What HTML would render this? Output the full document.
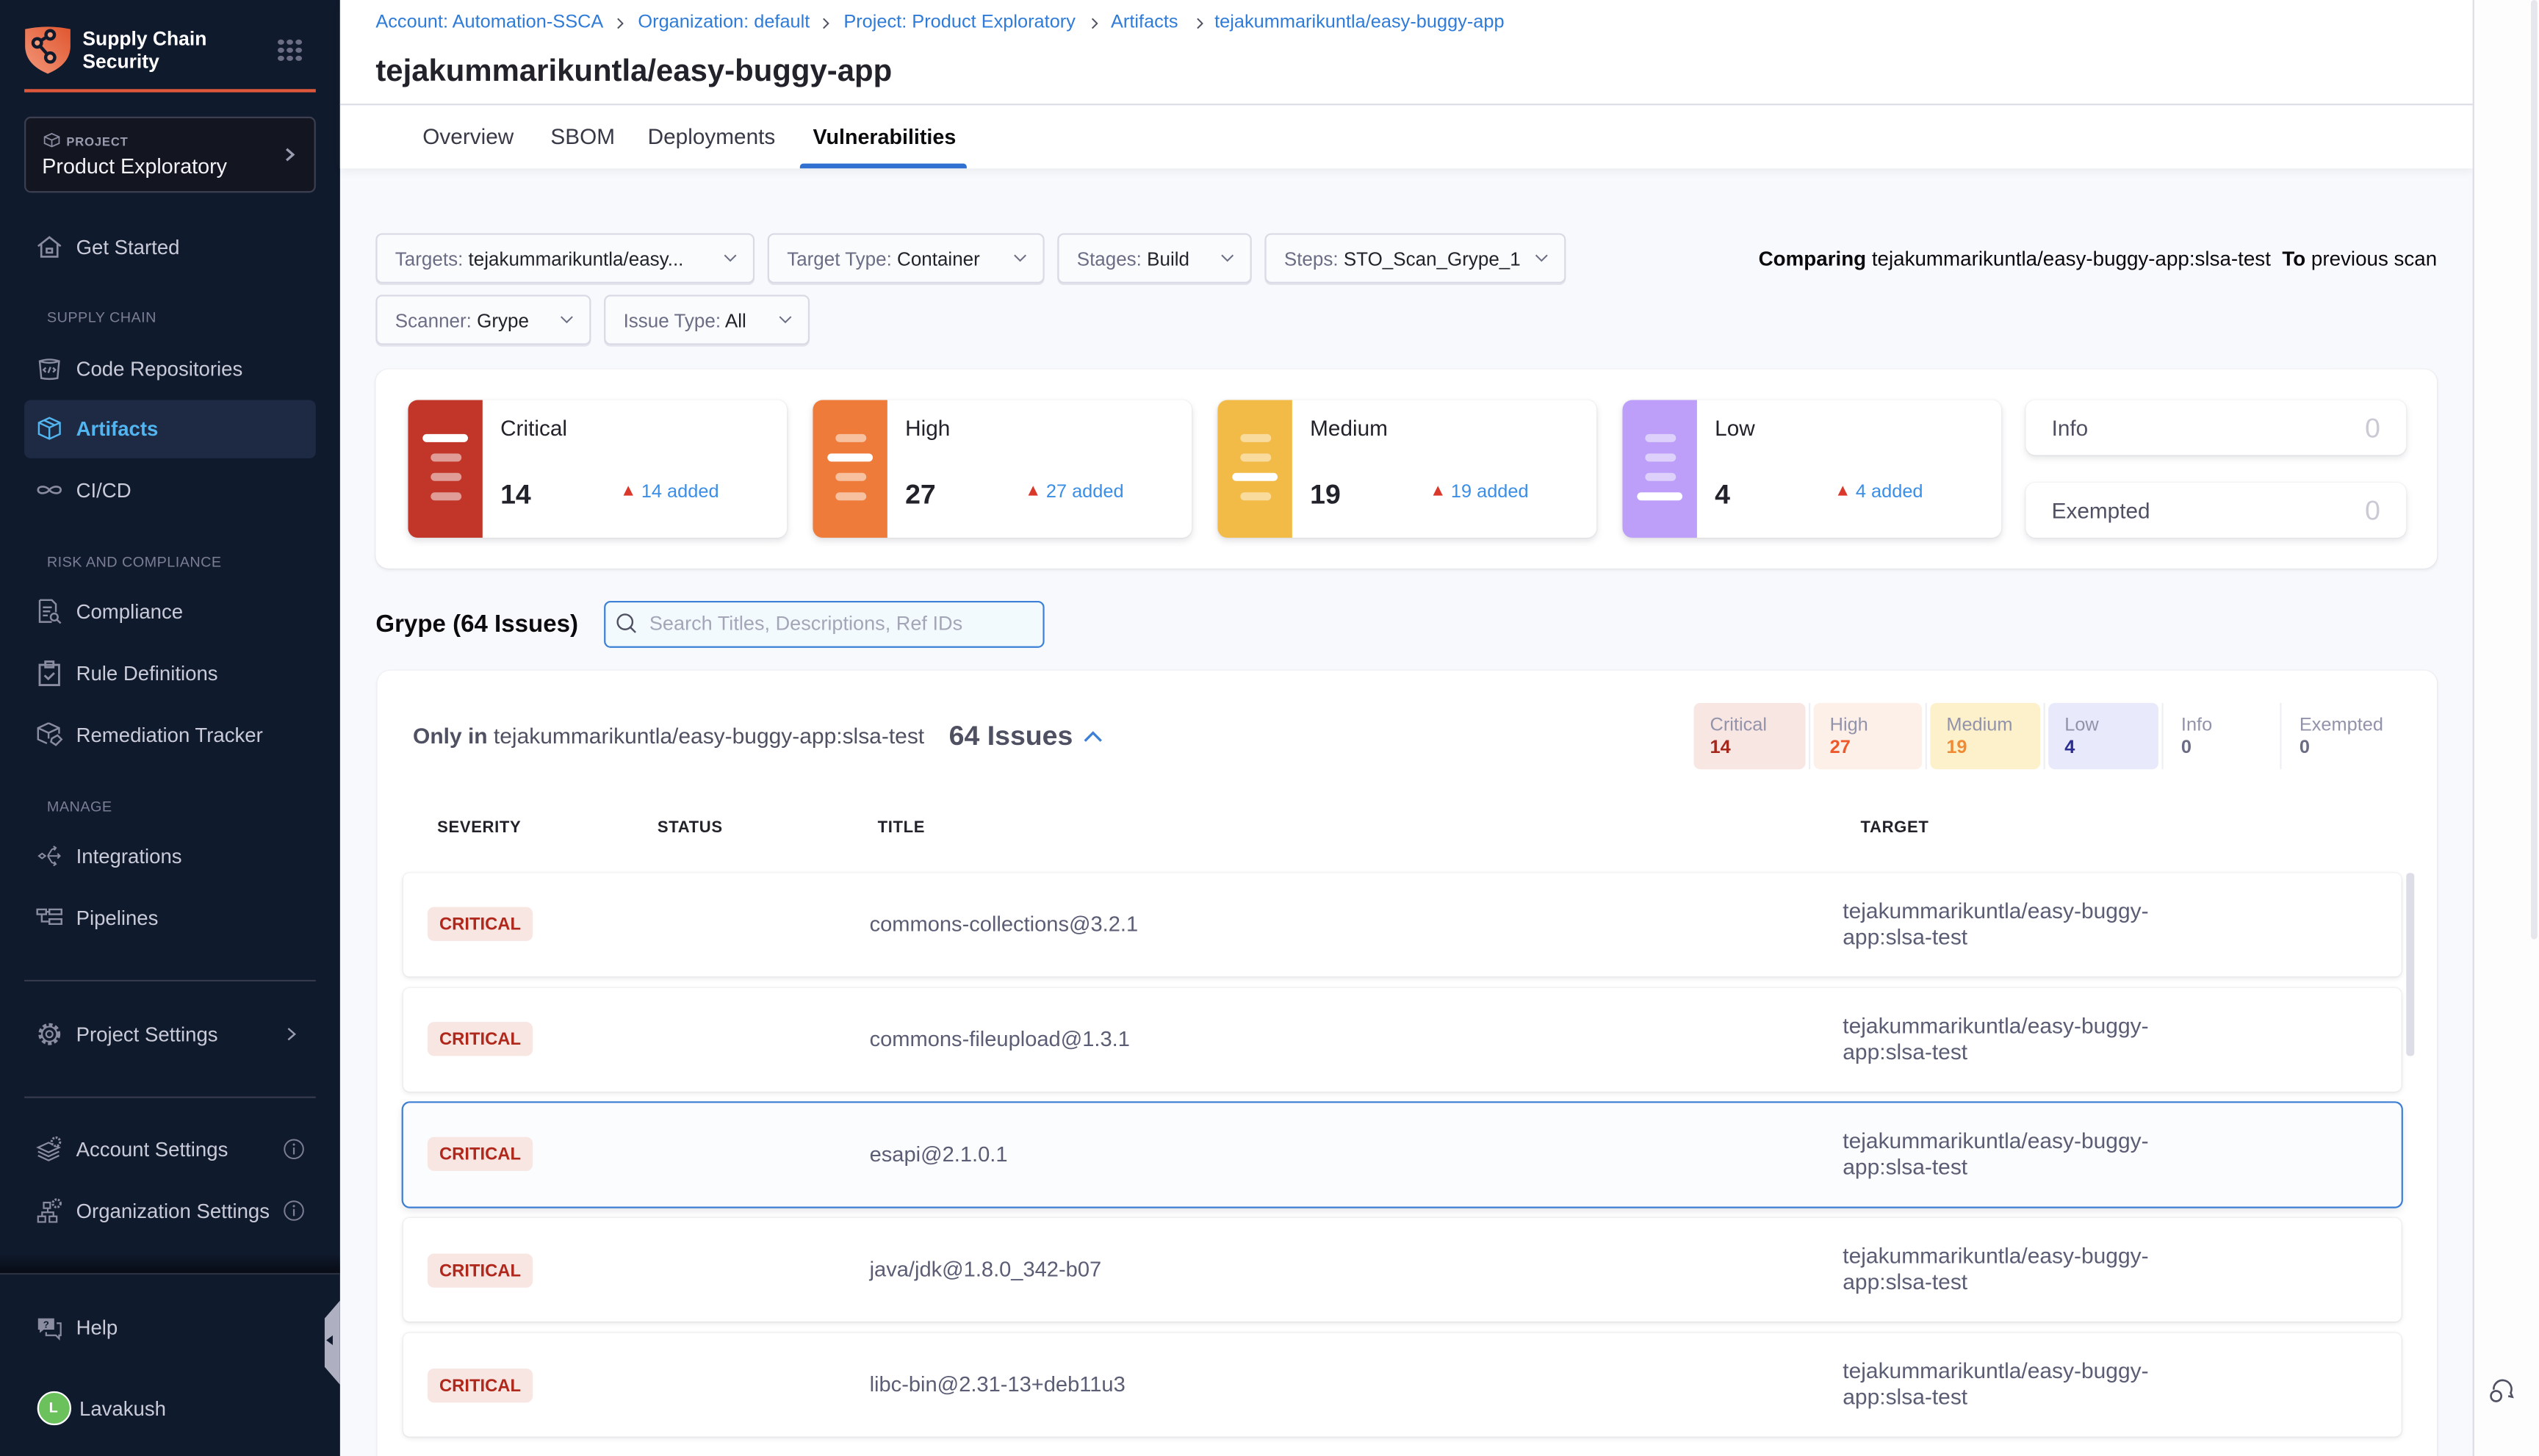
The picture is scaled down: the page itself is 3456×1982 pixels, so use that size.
<!DOCTYPE html>
<html><head><meta charset="utf-8">
<style>
html,body{margin:0;padding:0;width:3456px;height:1982px;overflow:hidden;background:#f8f9fc;}
#root{position:absolute;left:0;top:0;width:1568px;height:899px;transform:scale(2.2041,2.2047);transform-origin:0 0;font-family:"Liberation Sans",Arial,sans-serif;background:#f8f9fc;overflow:hidden;}
.a{position:absolute;white-space:nowrap;}
.nav{position:absolute;left:47px;font-size:12.5px;line-height:18px;color:#c9cbd8;white-space:nowrap;margin-top:1px;}
.ico{position:absolute;left:22px;width:17px;height:17px;}
.sec{position:absolute;left:29px;font-size:9px;line-height:12px;color:#7b7e94;letter-spacing:0.2px;white-space:nowrap;margin-top:1px;}
.bc{position:absolute;top:7px;font-size:11.5px;line-height:14px;color:#2f7bd8;white-space:nowrap;}
.bcs{position:absolute;top:10.5px;width:4px;height:7px;}
.tab{position:absolute;top:77px;font-size:13.5px;line-height:16px;color:#383946;white-space:nowrap;}
.flt{position:absolute;height:29px;background:#fafbfd;border:1px solid #d9dae5;border-radius:4px;box-shadow:0 1px 0 #e3e4ec;font-size:11.8px;line-height:29px;color:#6b6d85;white-space:nowrap;}
.flt span{color:#22222a;}
.flt .lb{position:absolute;left:11px;top:1px;}
.flt svg{position:absolute;top:12px;width:8px;height:5px;}
.card{position:absolute;top:247px;width:234px;height:85px;background:#fff;border-radius:6px;box-shadow:0 0 1px rgba(40,41,61,.1),0 2px 4px rgba(96,97,112,.18);overflow:hidden;}
.strip{position:absolute;left:0;top:0;width:46px;height:85px;}
.bar{position:absolute;height:5.5px;border-radius:3px;}
.bw{left:9px;width:28px;background:#fff;}
.bn{left:13.5px;width:19px;}
.clab{position:absolute;left:57px;top:9px;font-size:13.5px;line-height:18px;color:#22222a;}
.cnum{position:absolute;left:57px;top:49px;font-size:17px;line-height:20px;font-weight:bold;color:#22222a;}
.cadd{position:absolute;left:144px;top:50px;font-size:11.5px;line-height:14px;color:#3a8ee6;}
.tri{position:absolute;left:133px;top:53px;width:0;height:0;border-left:3px solid transparent;border-right:3px solid transparent;border-bottom:6px solid #d9382a;}
.icard{position:absolute;left:1251px;width:235px;height:34px;background:#fff;border-radius:6px;box-shadow:0 0 1px rgba(40,41,61,.1),0 2px 4px rgba(96,97,112,.16);}
.icard .l{position:absolute;left:16px;top:9px;font-size:13.5px;line-height:18px;color:#4f5162;}
.icard .n{position:absolute;right:16px;top:8px;font-size:17px;line-height:20px;color:#c9cad4;}
.mini{position:absolute;top:434px;height:41px;border-radius:4px;}
.ml{position:absolute;top:441px;font-size:11.5px;line-height:14px;color:#9293ab;}
.mn{position:absolute;top:455px;font-size:11.5px;line-height:14px;font-weight:bold;}
.msep{position:absolute;top:434px;width:1px;height:41px;background:#eeeff3;}
.th{position:absolute;top:505.5px;font-size:10px;line-height:12px;font-weight:bold;color:#22222a;letter-spacing:0.3px;}
.row{position:absolute;left:249px;width:1234px;height:64px;background:#fff;border-radius:4px;box-shadow:0 0 1px rgba(40,41,61,.1),0 1px 3px rgba(96,97,112,.14);}
.badge{position:absolute;left:15px;top:21.5px;width:65px;height:21px;background:#f8e6e3;border-radius:4px;font-size:10.8px;line-height:22px;font-weight:bold;color:#b0281b;text-align:center;}
.ttl{position:absolute;left:288px;top:24px;font-size:13.2px;line-height:16px;color:#5b5d74;white-space:nowrap;}
.tgt{position:absolute;left:889px;top:16px;font-size:13.6px;line-height:16px;color:#5b5d74;white-space:nowrap;}
</style></head>
<body>
<div id="root">

<!-- ============ SIDEBAR ============ -->
<div class="a" style="left:0;top:0;width:210px;height:899px;background:#101a2d;"></div>

<!-- logo -->
<svg class="a" style="left:15px;top:16px;" width="29" height="30" viewBox="0 0 29 30">
  <defs><linearGradient id="lg" x1="0" y1="1" x2="1" y2="0"><stop offset="0" stop-color="#f2977a"/><stop offset="1" stop-color="#e0562f"/></linearGradient></defs>
  <path d="M0.5 2 Q14.5 -1 28.5 2 L28.5 13 Q28 24 14.5 29.5 Q1 24 0.5 13 Z" fill="url(#lg)"/>
  <g stroke="#101a2d" stroke-width="2" fill="#f29a78">
    <line x1="8" y1="10.5" x2="16" y2="5.5"/><line x1="8" y1="10.5" x2="16" y2="19.5"/>
    <circle cx="8" cy="10.5" r="2.6"/><circle cx="16" cy="5.5" r="2.6"/><circle cx="16" cy="19.5" r="2.8"/>
  </g>
</svg>
<div class="a" style="left:51px;top:17px;font-size:12px;line-height:14px;font-weight:bold;color:#fff;">Supply Chain<br>Security</div>
<svg class="a" style="left:171px;top:24px;" width="16" height="14" viewBox="0 0 16 14">
  <g fill="#6b6e85">
    <ellipse cx="2.5" cy="2" rx="2" ry="1.6"/><ellipse cx="8" cy="2" rx="2" ry="1.6"/><ellipse cx="13.5" cy="2" rx="2" ry="1.6"/>
    <ellipse cx="2.5" cy="7" rx="2" ry="1.6"/><ellipse cx="8" cy="7" rx="2" ry="1.6"/><ellipse cx="13.5" cy="7" rx="2" ry="1.6"/>
    <ellipse cx="2.5" cy="12" rx="2" ry="1.6"/><ellipse cx="8" cy="12" rx="2" ry="1.6"/><ellipse cx="13.5" cy="12" rx="2" ry="1.6"/>
  </g>
</svg>
<div class="a" style="left:15px;top:55px;width:180px;height:2px;background:#e0583c;"></div>

<!-- project box -->
<div class="a" style="left:15px;top:72px;width:178px;height:45px;background:#131621;border:1px solid #3c3f50;border-radius:4px;"></div>
<svg class="a" style="left:27px;top:82px;" width="10" height="9" viewBox="0 0 10 9"><path d="M5 0.5 L9.5 2.5 L9.5 6.5 L5 8.5 L0.5 6.5 L0.5 2.5 Z M0.5 2.5 L5 4.5 L9.5 2.5 M5 4.5 V8.5" fill="none" stroke="#8a8ca0" stroke-width="0.8"/></svg>
<div class="a" style="left:41px;top:82.5px;font-size:7.5px;line-height:10px;font-weight:bold;color:#9a9cb0;letter-spacing:0.4px;">PROJECT</div>
<div class="a" style="left:26px;top:95px;font-size:13px;line-height:16px;color:#f3f3f7;">Product Exploratory</div>
<svg class="a" style="left:176px;top:91px;" width="6" height="9" viewBox="0 0 6 9"><path d="M1 1 L5 4.5 L1 8" fill="none" stroke="#9a9cb0" stroke-width="1.5"/></svg>

<!-- nav -->
<svg class="ico" style="top:144px;" viewBox="0 0 17 17"><path d="M1.5 8 L8.5 2.5 L15.5 8 M3.5 6.8 V14.5 H13.5 V6.8 M6.8 9.5 H10.2 V12 H6.8 Z" fill="none" stroke="#8a8ca0" stroke-width="1.2"/></svg>
<div class="nav" style="top:143px;">Get Started</div>

<div class="sec" style="top:189px;">SUPPLY CHAIN</div>

<svg class="ico" style="top:219px;" viewBox="0 0 17 17"><path d="M2.5 4 Q8.5 2 14.5 4 L13.5 14.5 Q8.5 15.5 3.5 14.5 Z M2.5 4 Q8.5 6 14.5 4 M6.3 8 L4.9 9.4 L6.3 10.8 M10.7 8 L12.1 9.4 L10.7 10.8 M9.2 7.6 L7.8 11.2" fill="none" stroke="#8a8ca0" stroke-width="1.1"/></svg>
<div class="nav" style="top:218px;">Code Repositories</div>

<div class="a" style="left:15px;top:247px;width:180px;height:36px;background:#1e2a44;border-radius:4px;"></div>
<svg class="ico" style="top:256px;" viewBox="0 0 17 17"><path d="M8.5 2 L15 5 L15 12 L8.5 15 L2 12 L2 5 Z M2 5 L8.5 8 L15 5 M8.5 8 V15 M5.2 3.5 L11.8 6.5" fill="none" stroke="#53b5ef" stroke-width="1.1"/></svg>
<div class="nav" style="top:255px;color:#53b5ef;font-weight:bold;">Artifacts</div>

<svg class="ico" style="top:294px;" viewBox="0 0 17 17"><path d="M8.5 8.5 C6.5 5.8 1.5 5.8 1.5 8.5 C1.5 11.2 6.5 11.2 8.5 8.5 C10.5 5.8 15.5 5.8 15.5 8.5 C15.5 11.2 10.5 11.2 8.5 8.5 Z" fill="none" stroke="#8a8ca0" stroke-width="1.2"/></svg>
<div class="nav" style="top:293px;">CI/CD</div>

<div class="sec" style="top:340px;">RISK AND COMPLIANCE</div>

<svg class="ico" style="top:369px;" viewBox="0 0 17 17"><path d="M2.5 1.5 H10 L12.5 4 V9 M2.5 1.5 V15 H10 M4.5 6 H10 M4.5 8.5 H9 M4.5 11 H7.5" fill="none" stroke="#8a8ca0" stroke-width="1.1"/><circle cx="11.5" cy="12" r="2.2" fill="none" stroke="#8a8ca0" stroke-width="1.1"/><path d="M13 13.5 L15.5 15.8" stroke="#8a8ca0" stroke-width="1.1"/></svg>
<div class="nav" style="top:368px;">Compliance</div>

<svg class="ico" style="top:407px;" viewBox="0 0 17 17"><path d="M2.5 3.5 H14.5 V16 H2.5 Z M6 1.5 H11 V5 H6 Z M5.5 10 L7.8 12.2 L11.5 8.5" fill="none" stroke="#8a8ca0" stroke-width="1.3"/></svg>
<div class="nav" style="top:406px;">Rule Definitions</div>

<svg class="ico" style="top:445px;" viewBox="0 0 17 17"><path d="M8 1.5 L14.5 4.5 L14.5 8 M8 1.5 L1.5 4.5 L1.5 11.5 L7 14 M1.5 4.5 L8 7.5 L14.5 4.5 M8 7.5 V11 M10 11 L13.5 9 L16 11.5 L12.5 15 L9.5 13 Z" fill="none" stroke="#8a8ca0" stroke-width="1.1"/></svg>
<div class="nav" style="top:444px;">Remediation Tracker</div>

<div class="sec" style="top:491px;">MANAGE</div>

<svg class="ico" style="top:520px;" viewBox="0 0 17 17"><path d="M2 8.5 L4 7 L6 8.5 L4 10 Z M7.5 8.5 L10 4.5 L12.5 3.5 M7.5 8.5 H15 M13.5 7 L15 8.5 L13.5 10 M7.5 8.5 L10 12.5 L12.5 13.5 M11 2.5 L12.5 3.5 L11.5 5 M11 14.5 L12.5 13.5 L11.5 12" fill="none" stroke="#8a8ca0" stroke-width="0.9"/></svg>
<div class="nav" style="top:519px;">Integrations</div>

<svg class="ico" style="top:558px;" viewBox="0 0 17 17"><path d="M1 3.5 H6.5 V6.5 H1 Z M8.5 3.5 H16 V6.5 H8.5 Z M8.5 9.5 H16 V12.5 H8.5 Z M6.5 5 H8.5 M3.8 6.5 V11 H8.5" fill="none" stroke="#8a8ca0" stroke-width="1.1"/></svg>
<div class="nav" style="top:557px;">Pipelines</div>

<div class="a" style="left:15px;top:605px;width:180px;height:1px;background:#363a4d;"></div>

<svg class="ico" style="top:630px;" viewBox="0 0 17 17"><circle cx="8.5" cy="8.5" r="5.6" fill="none" stroke="#8a8ca0" stroke-width="2.4" stroke-dasharray="2.2 1.5"/><circle cx="8.5" cy="8.5" r="4.6" fill="#101a2d" stroke="#8a8ca0" stroke-width="1"/><circle cx="8.5" cy="8.5" r="2" fill="none" stroke="#8a8ca0" stroke-width="1"/></svg>
<div class="nav" style="top:629px;">Project Settings</div>
<svg class="a" style="left:177px;top:634px;" width="6" height="9" viewBox="0 0 6 9"><path d="M1 1 L5 4.5 L1 8" fill="none" stroke="#9a9cb0" stroke-width="1.1"/></svg>

<div class="a" style="left:15px;top:677px;width:180px;height:1px;background:#363a4d;"></div>

<svg class="ico" style="top:701px;" viewBox="0 0 17 17"><path d="M1.5 10 L8 13 L14.5 10 M1.5 12.5 L8 15.5 L14.5 12.5 M1.5 7.5 L8 10.5 L14.5 7.5 L8 4.5 Z" fill="none" stroke="#8a8ca0" stroke-width="1"/><circle cx="12.5" cy="4" r="2.6" fill="#101a2d" stroke="#8a8ca0" stroke-width="1.4" stroke-dasharray="1.2 0.8"/></svg>
<div class="nav" style="top:700px;">Account Settings</div>
<svg class="a" style="left:175px;top:703px;" width="13" height="13" viewBox="0 0 13 13"><circle cx="6.5" cy="6.5" r="5.8" fill="none" stroke="#7b7e94" stroke-width="0.9"/><path d="M6.5 5.5 V9.8" stroke="#7b7e94" stroke-width="1"/><circle cx="6.5" cy="3.7" r="0.7" fill="#7b7e94"/></svg>

<svg class="ico" style="top:739px;" viewBox="0 0 17 17"><path d="M1.5 12 H6 V15.5 H1.5 Z M8.5 12 H13 V15.5 H8.5 Z M4 12 V9.5 H11 V12 M7.5 9.5 V7 M5 3.5 H9 V7 H5 Z" fill="none" stroke="#8a8ca0" stroke-width="1"/><circle cx="13" cy="4" r="2.4" fill="#101a2d" stroke="#8a8ca0" stroke-width="1.4" stroke-dasharray="1.2 0.8"/></svg>
<div class="nav" style="top:738px;">Organization Settings</div>
<svg class="a" style="left:175px;top:741px;" width="13" height="13" viewBox="0 0 13 13"><circle cx="6.5" cy="6.5" r="5.8" fill="none" stroke="#7b7e94" stroke-width="0.9"/><path d="M6.5 5.5 V9.8" stroke="#7b7e94" stroke-width="1"/><circle cx="6.5" cy="3.7" r="0.7" fill="#7b7e94"/></svg>

<!-- bottom section -->
<div class="a" style="left:0;top:774px;width:210px;height:12px;background:linear-gradient(to bottom,rgba(0,0,0,0),rgba(0,0,0,0.55));"></div>
<div class="a" style="left:0;top:786px;width:210px;height:1px;background:#2c3142;"></div>

<svg class="ico" style="top:811px;" viewBox="0 0 17 17"><path d="M1.5 3 H11.5 V10 H5 L2.5 12 V10 H1.5 Z" fill="#8a8ca0"/><path d="M13 6 H15.5 V13.5 H14.5 V15.5 L12.5 13.5 H6.5 V11.5" fill="none" stroke="#8a8ca0" stroke-width="1"/><text x="6.5" y="8.8" font-size="6" font-weight="bold" fill="#101a2d" text-anchor="middle" font-family="Liberation Sans, sans-serif">?</text></svg>
<div class="nav" style="top:810px;">Help</div>

<div class="a" style="left:22.5px;top:859px;width:19px;height:19px;border-radius:50%;background:#6bc25d;border:1px solid #fff;color:#fff;font-size:9px;font-weight:bold;line-height:19px;text-align:center;">L</div>
<div class="nav" style="top:860px;left:49px;">Lavakush</div>

<!-- collapse handle -->
<svg class="a" style="left:199px;top:803px;" width="11" height="52" viewBox="0 0 11 52"><path d="M11 0 L11 52 L1.5 41 L1.5 11 Z" fill="#aeb0c2"/><path d="M6.5 21.5 L2.5 24.5 L6.5 27.5 Z" fill="#101a2d"/></svg>

<!-- ============ HEADER ============ -->
<div class="a" style="left:210px;top:0;width:1317px;height:104px;background:#fff;box-shadow:0 2px 5px rgba(40,41,61,0.07);"></div>
<div class="a" style="left:210px;top:64px;width:1317px;height:1px;background:#dcdde6;"></div>

<div class="bc" style="left:232px;">Account: Automation-SSCA</div>
<svg class="bcs" style="left:381px;" viewBox="0 0 4 7"><path d="M0.5 0.5 L3.5 3.5 L0.5 6.5" fill="none" stroke="#4f5162" stroke-width="0.9"/></svg>
<div class="bc" style="left:394px;">Organization: default</div>
<svg class="bcs" style="left:508px;" viewBox="0 0 4 7"><path d="M0.5 0.5 L3.5 3.5 L0.5 6.5" fill="none" stroke="#4f5162" stroke-width="0.9"/></svg>
<div class="bc" style="left:521px;">Project: Product Exploratory</div>
<svg class="bcs" style="left:674px;" viewBox="0 0 4 7"><path d="M0.5 0.5 L3.5 3.5 L0.5 6.5" fill="none" stroke="#4f5162" stroke-width="0.9"/></svg>
<div class="bc" style="left:686px;">Artifacts</div>
<svg class="bcs" style="left:739px;" viewBox="0 0 4 7"><path d="M0.5 0.5 L3.5 3.5 L0.5 6.5" fill="none" stroke="#4f5162" stroke-width="0.9"/></svg>
<div class="bc" style="left:750px;">tejakummarikuntla/easy-buggy-app</div>

<div class="a" style="left:232px;top:34px;font-size:19px;line-height:22px;font-weight:bold;color:#22222a;">tejakummarikuntla/easy-buggy-app</div>

<div class="tab" style="left:261px;">Overview</div>
<div class="tab" style="left:340px;">SBOM</div>
<div class="tab" style="left:400px;">Deployments</div>
<div class="tab" style="left:502px;font-weight:bold;color:#0b0b0d;font-size:13px;">Vulnerabilities</div>
<div class="a" style="left:494px;top:101px;width:103px;height:3px;background:#3070d0;border-radius:2px 2px 0 0;"></div>

<!-- right strip -->
<div class="a" style="left:1527px;top:0;width:41px;height:899px;background:#fdfdfe;border-left:1px solid #dcdde6;"></div>
<div class="a" style="left:1563px;top:0;width:4px;height:580px;background:#e6e7ed;border-radius:2px;"></div>
<svg class="a" style="left:1536px;top:849px;" width="19" height="19" viewBox="0 0 19 19"><path d="M4 9 A5.5 5.5 0 1 1 14.5 11 L15.5 13.5 L13 13" fill="none" stroke="#4f5162" stroke-width="1.2"/><circle cx="5.5" cy="13" r="3.2" fill="#fdfdfe" stroke="#4f5162" stroke-width="1.2"/></svg>

<!-- ============ FILTERS ============ -->
<div class="flt" style="left:232px;top:144px;width:232px;"><div class="lb">Targets: <span>tejakummarikuntla/easy...</span></div><svg style="left:214px;" viewBox="0 0 8 5"><path d="M0.5 0.5 L4 4 L7.5 0.5" fill="none" stroke="#6b6d85" stroke-width="0.9"/></svg></div>
<div class="flt" style="left:474px;top:144px;width:169px;"><div class="lb">Target Type: <span>Container</span></div><svg style="left:151px;" viewBox="0 0 8 5"><path d="M0.5 0.5 L4 4 L7.5 0.5" fill="none" stroke="#6b6d85" stroke-width="0.9"/></svg></div>
<div class="flt" style="left:653px;top:144px;width:118px;"><div class="lb">Stages: <span>Build</span></div><svg style="left:100px;" viewBox="0 0 8 5"><path d="M0.5 0.5 L4 4 L7.5 0.5" fill="none" stroke="#6b6d85" stroke-width="0.9"/></svg></div>
<div class="flt" style="left:781px;top:144px;width:184px;"><div class="lb">Steps: <span>STO_Scan_Grype_1</span></div><svg style="left:166px;" viewBox="0 0 8 5"><path d="M0.5 0.5 L4 4 L7.5 0.5" fill="none" stroke="#6b6d85" stroke-width="0.9"/></svg></div>
<div class="flt" style="left:232px;top:182px;width:131px;"><div class="lb">Scanner: <span>Grype</span></div><svg style="left:113px;" viewBox="0 0 8 5"><path d="M0.5 0.5 L4 4 L7.5 0.5" fill="none" stroke="#6b6d85" stroke-width="0.9"/></svg></div>
<div class="flt" style="left:373px;top:182px;width:125px;"><div class="lb">Issue Type: <span>All</span></div><svg style="left:107px;" viewBox="0 0 8 5"><path d="M0.5 0.5 L4 4 L7.5 0.5" fill="none" stroke="#6b6d85" stroke-width="0.9"/></svg></div>

<div class="a" style="right:63px;top:153px;font-size:12.6px;line-height:15px;color:#0b0b0d;"><b>Comparing</b> tejakummarikuntla/easy-buggy-app:slsa-test&nbsp; <b>To</b> previous scan</div>

<!-- ============ SEVERITY PANEL ============ -->
<div class="a" style="left:232px;top:228px;width:1273px;height:123px;background:#fff;border-radius:8px;box-shadow:0 0 1px rgba(40,41,61,.08),0 1px 2px rgba(96,97,112,.1);"></div>

<div class="card" style="left:252px;">
  <div class="strip" style="background:#c13628;"></div>
  <div class="bar bw" style="top:20.5px;"></div>
  <div class="bar bn" style="top:32.5px;background:#e09c96;"></div>
  <div class="bar bn" style="top:44.5px;background:#e09c96;"></div>
  <div class="bar bn" style="top:56.5px;background:#e09c96;"></div>
  <div class="clab">Critical</div><div class="cnum">14</div><div class="tri"></div><div class="cadd">14 added</div>
</div>
<div class="card" style="left:502px;">
  <div class="strip" style="background:#ee7b3a;"></div>
  <div class="bar bn" style="top:20.5px;background:#f7c09f;"></div>
  <div class="bar bw" style="top:32.5px;"></div>
  <div class="bar bn" style="top:44.5px;background:#f7c09f;"></div>
  <div class="bar bn" style="top:56.5px;background:#f7c09f;"></div>
  <div class="clab">High</div><div class="cnum">27</div><div class="tri"></div><div class="cadd">27 added</div>
</div>
<div class="card" style="left:752px;">
  <div class="strip" style="background:#f2bb47;"></div>
  <div class="bar bn" style="top:20.5px;background:#f9db9e;"></div>
  <div class="bar bn" style="top:32.5px;background:#f9db9e;"></div>
  <div class="bar bw" style="top:44.5px;"></div>
  <div class="bar bn" style="top:56.5px;background:#f9db9e;"></div>
  <div class="clab">Medium</div><div class="cnum">19</div><div class="tri"></div><div class="cadd">19 added</div>
</div>
<div class="card" style="left:1002px;">
  <div class="strip" style="background:#bd9ffa;"></div>
  <div class="bar bn" style="top:20.5px;background:#ddd1fc;"></div>
  <div class="bar bn" style="top:32.5px;background:#ddd1fc;"></div>
  <div class="bar bn" style="top:44.5px;background:#ddd1fc;"></div>
  <div class="bar bw" style="top:56.5px;"></div>
  <div class="clab">Low</div><div class="cnum">4</div><div class="tri"></div><div class="cadd">4 added</div>
</div>
<div class="icard" style="top:247px;"><div class="l">Info</div><div class="n">0</div></div>
<div class="icard" style="top:298px;"><div class="l">Exempted</div><div class="n">0</div></div>

<!-- ============ GRYPE ============ -->
<div class="a" style="left:232px;top:377px;font-size:15px;line-height:18px;font-weight:bold;color:#0b0b0d;">Grype (64 Issues)</div>
<div class="a" style="left:373px;top:371px;width:270px;height:27px;background:#f3fafd;border:1px solid #3b80d6;border-radius:4px;"></div>
<svg class="a" style="left:380px;top:378px;" width="14" height="14" viewBox="0 0 14 14"><circle cx="6" cy="6" r="4.6" fill="none" stroke="#4f5162" stroke-width="1.1"/><path d="M9.4 9.4 L12.5 12.5" stroke="#4f5162" stroke-width="1.1"/></svg>
<div class="a" style="left:401px;top:378px;font-size:12.3px;line-height:15px;color:#a4a6b8;">Search Titles, Descriptions, Ref IDs</div>

<!-- table panel -->
<div class="a" style="left:233px;top:414px;width:1272px;height:520px;background:#fff;border-radius:8px;box-shadow:0 0 1px rgba(40,41,61,.08),0 1px 2px rgba(96,97,112,.1);"></div>

<div class="a" style="left:255px;top:446.5px;font-size:13.6px;line-height:16px;color:#4f5162;"><b>Only in</b> tejakummarikuntla/easy-buggy-app:slsa-test</div>
<div class="a" style="left:586px;top:445px;font-size:17px;line-height:20px;font-weight:bold;color:#4f5162;">64 Issues</div>
<svg class="a" style="left:669px;top:451px;" width="12" height="8" viewBox="0 0 12 8"><path d="M1 6.5 L6 1.5 L11 6.5" fill="none" stroke="#3b80d6" stroke-width="1.5"/></svg>

<div class="mini" style="left:1046px;width:69px;background:#f8e6e3;"></div>
<div class="mini" style="left:1120px;width:67px;background:#fcf0e8;"></div>
<div class="mini" style="left:1192px;width:68px;background:#fdf1cb;"></div>
<div class="mini" style="left:1265px;width:68px;background:#e8e9fb;"></div>
<div class="msep" style="left:1117px;"></div>
<div class="msep" style="left:1189px;"></div>
<div class="msep" style="left:1262px;"></div>
<div class="msep" style="left:1335px;"></div>
<div class="msep" style="left:1408px;"></div>
<div class="ml" style="left:1056px;">Critical</div><div class="mn" style="left:1056px;color:#a3271b;">14</div>
<div class="ml" style="left:1130px;">High</div><div class="mn" style="left:1130px;color:#ec5a2c;">27</div>
<div class="ml" style="left:1202px;">Medium</div><div class="mn" style="left:1202px;color:#f08a35;">19</div>
<div class="ml" style="left:1275px;">Low</div><div class="mn" style="left:1275px;color:#2b2d91;">4</div>
<div class="ml" style="left:1347px;">Info</div><div class="mn" style="left:1347px;color:#6b6d85;">0</div>
<div class="ml" style="left:1420px;">Exempted</div><div class="mn" style="left:1420px;color:#6b6d85;">0</div>

<div class="th" style="left:270px;">SEVERITY</div>
<div class="th" style="left:406px;">STATUS</div>
<div class="th" style="left:542px;">TITLE</div>
<div class="th" style="left:1149px;">TARGET</div>

<div class="row" style="top:538.5px;"><div class="badge">CRITICAL</div><div class="ttl">commons-collections@3.2.1</div><div class="tgt">tejakummarikuntla/easy-buggy-<br>app:slsa-test</div></div>
<div class="row" style="top:609.7px;"><div class="badge">CRITICAL</div><div class="ttl">commons-fileupload@1.3.1</div><div class="tgt">tejakummarikuntla/easy-buggy-<br>app:slsa-test</div></div>
<div class="row" style="top:680.9px;background:#fbfcfe;box-shadow:0 0 0 1px #3b7ed3,0 2px 5px rgba(96,97,112,.2);"><div class="badge">CRITICAL</div><div class="ttl">esapi@2.1.0.1</div><div class="tgt">tejakummarikuntla/easy-buggy-<br>app:slsa-test</div></div>
<div class="row" style="top:752.1px;"><div class="badge">CRITICAL</div><div class="ttl">java/jdk@1.8.0_342-b07</div><div class="tgt">tejakummarikuntla/easy-buggy-<br>app:slsa-test</div></div>
<div class="row" style="top:823.3px;"><div class="badge">CRITICAL</div><div class="ttl">libc-bin@2.31-13+deb11u3</div><div class="tgt">tejakummarikuntla/easy-buggy-<br>app:slsa-test</div></div>

<div class="a" style="left:1486px;top:539px;width:4.5px;height:113px;background:#dcdde6;border-radius:2px;"></div>

</div>
</body></html>
